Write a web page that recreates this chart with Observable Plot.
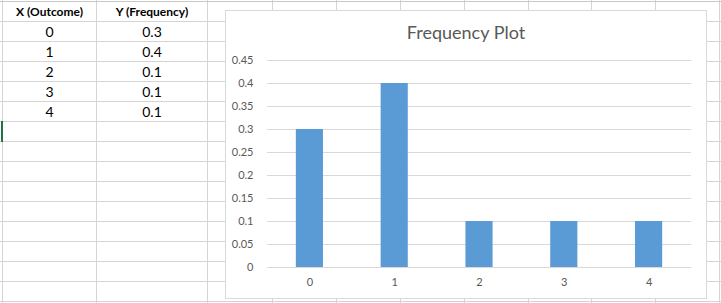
<!DOCTYPE html>
<html><head><meta charset="utf-8">
<script src="https://cdn.jsdelivr.net/npm/d3@7"></script>
<script src="https://cdn.jsdelivr.net/npm/@observablehq/plot@0.6"></script>
<style>
html,body{margin:0;padding:0;background:#fff;}
body{width:721px;height:303px;position:relative;overflow:hidden;font-family:Lato,"Open Sans",sans-serif;}
.vl{position:absolute;top:0;width:1px;height:303px;background:#d4d4d4;}
.hl{position:absolute;left:0;height:1px;width:721px;background:#d4d4d4;}
.cell{position:absolute;height:20px;line-height:20px;text-align:center;font-size:14px;color:#000;white-space:nowrap;}
.hdr{font-weight:bold;font-size:12px;}
#sel{position:absolute;left:1px;top:121px;width:2px;height:21px;background:#217346;}
#chart{position:absolute;left:225px;top:10px;width:480px;height:287px;background:#fff;border:1px solid #d9d9d9;}
#title{position:absolute;left:0;top:12px;width:100%;height:18px;line-height:18px;text-align:center;font-size:18px;color:#595959;white-space:nowrap;}
#plot{position:absolute;left:0;top:0;}
</style>
</head><body>
<div id="sheet"></div>
<div id="sel"></div>
<div id="chart"><div id="title"></div><div id="plot"></div></div>
<script>
// ---- data ----
const headers = ["X (Outcome)", "Y (Frequency)"];
const outcomes = [0, 1, 2, 3, 4];
const frequencies = [0.3, 0.4, 0.1, 0.1, 0.1];
const frequencyLabels = ["0.3", "0.4", "0.1", "0.1", "0.1"];
const yTicks = [0, 0.05, 0.1, 0.15, 0.2, 0.25, 0.3, 0.35, 0.4, 0.45];
const yTickLabels = ["0", "0.05", "0.1", "0.15", "0.2", "0.25", "0.3", "0.35", "0.4", "0.45"];
const chartTitle = "Frequency Plot";

// ---- spreadsheet background ----
const sheet = document.getElementById("sheet");
const colEdges = [2, 96, 207, 272, 336, 400, 464, 528, 591, 655, 719];
colEdges.forEach(x => {
  const d = document.createElement("div"); d.className = "vl"; d.style.left = x + "px"; sheet.appendChild(d);
});
for (let y = 1; y <= 301; y += 20) {
  const d = document.createElement("div"); d.className = "hl"; d.style.top = y + "px";
  if (y === 1) d.style.background = "#c8c8c8";
  sheet.appendChild(d);
}
function cell(text, col, row, bold) {
  const d = document.createElement("div");
  d.className = "cell" + (bold ? " hdr" : "");
  d.style.left = (colEdges[col] + 1) + "px";
  d.style.width = (colEdges[col + 1] - colEdges[col] - 1) + "px";
  d.style.top = (2 + row * 20) + "px";
  d.textContent = text;
  sheet.appendChild(d);
}
cell(headers[0], 0, 0, true);
cell(headers[1], 1, 0, true);
outcomes.forEach((o, i) => { cell(String(o), 0, i + 1); cell(frequencyLabels[i], 1, i + 1); });

// ---- chart ----
document.getElementById("title").textContent = chartTitle;
const data = outcomes.map((o, i) => ({x: String(o), y: frequencies[i]}));
const chart = Plot.plot({
  width: 480,
  height: 287,
  marginLeft: 41,
  marginRight: 15,
  marginTop: 49,
  marginBottom: 31,
  style: {fontFamily: "Lato, 'Open Sans', sans-serif", fontSize: "11px", color: "#595959", background: "transparent"},
  x: {type: "band", domain: outcomes.map(String), paddingInner: 0.68, paddingOuter: 0.34, round: false},
  y: {domain: [0, 0.45]},
  marks: [
    Plot.ruleY(yTicks, {stroke: "#d9d9d9", strokeWidth: 1}),
    Plot.barY(data, {x: "x", y: "y", fill: "#5b9bd5"}),
    Plot.axisY({ticks: yTicks, tickSize: 0, tickPadding: 14, label: null, tickFormat: d => yTickLabels[yTicks.indexOf(d)], fontSize: 11}),
    Plot.axisX({tickSize: 0, tickPadding: 11, label: null, fontSize: 11})
  ]
});
document.getElementById("plot").appendChild(chart);
</script>
</body></html>
